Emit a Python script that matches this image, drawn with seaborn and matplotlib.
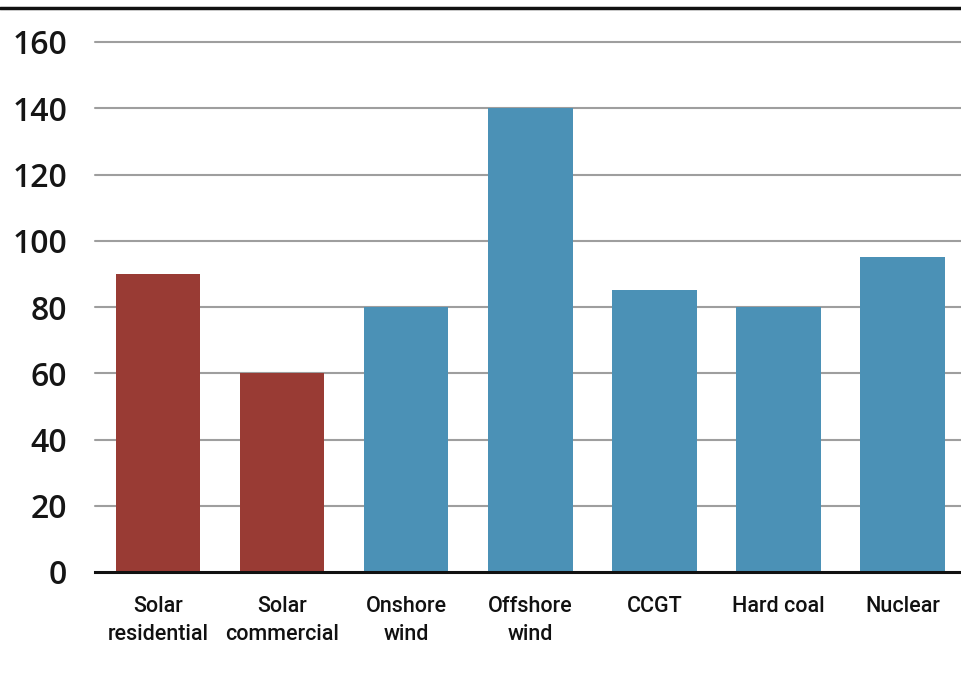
import matplotlib
matplotlib.use("Agg")
import matplotlib.pyplot as plt
import seaborn as sns
import pandas as pd
from matplotlib.lines import Line2D

# Technology categories and their values
categories = ["Solar\nresidential", "Solar\ncommercial", "Onshore\nwind", "Offshore\nwind",
              "CCGT", "Hard coal", "Nuclear"]
values = [90, 60, 80, 140, 85, 80, 95]
groups = ["solar", "solar", "other", "other", "other", "other", "other"]
y_ticks = [0, 20, 40, 60, 80, 100, 120, 140, 160]

palette = {"solar": "#993B34", "other": "#4B91B6"}

df = pd.DataFrame({"tech": categories, "value": values, "group": groups})

sns.set_theme(style="white")
plt.rcParams["font.family"] = ["Open Sans", "DejaVu Sans"]

fig = plt.figure(figsize=(9.62, 6.78), dpi=100)
ax = fig.add_axes([95 / 962, 106 / 678, 1 - 95 / 962, (572 - 42) / 678])

sns.barplot(data=df, x="tech", y="value", hue="group", palette=palette,
            dodge=False, width=0.68, saturation=1, legend=False,
            edgecolor="none", linewidth=0, ax=ax)

ax.set_ylim(0, 160)
ax.set_xlim(-0.51, 6.48)
ax.set_yticks(y_ticks)
ax.set_yticklabels([str(t) for t in y_ticks], fontsize=23, fontweight="semibold",
                   color="#151515")
ax.set_xticks(range(len(categories)))
ax.set_xticklabels(categories, fontsize=15.5, color="#111111", fontweight="medium",
                   family=["Roboto", "DejaVu Sans"],
                   linespacing=1.45)
ax.tick_params(axis="y", length=0, pad=20)
ax.tick_params(axis="x", length=0, pad=17)
ax.set_xlabel("")
ax.set_ylabel("")

# Horizontal gridlines behind bars
for t in y_ticks[1:]:
    ax.axhline(t, color="#9e9e9e", lw=1.5, zorder=0, clip_on=False)
ax.set_axisbelow(True)

for side in ["top", "right", "left"]:
    ax.spines[side].set_visible(False)
ax.spines["bottom"].set_color("#111111")
ax.spines["bottom"].set_linewidth(2.2)
ax.spines["bottom"].set_zorder(5)

# Rule along the top of the figure
fig.add_artist(Line2D([0, 1], [1 - 8 / 678, 1 - 8 / 678], transform=fig.transFigure,
                      color="#111111", lw=2.5))

fig.savefig("out.png", dpi=100)
